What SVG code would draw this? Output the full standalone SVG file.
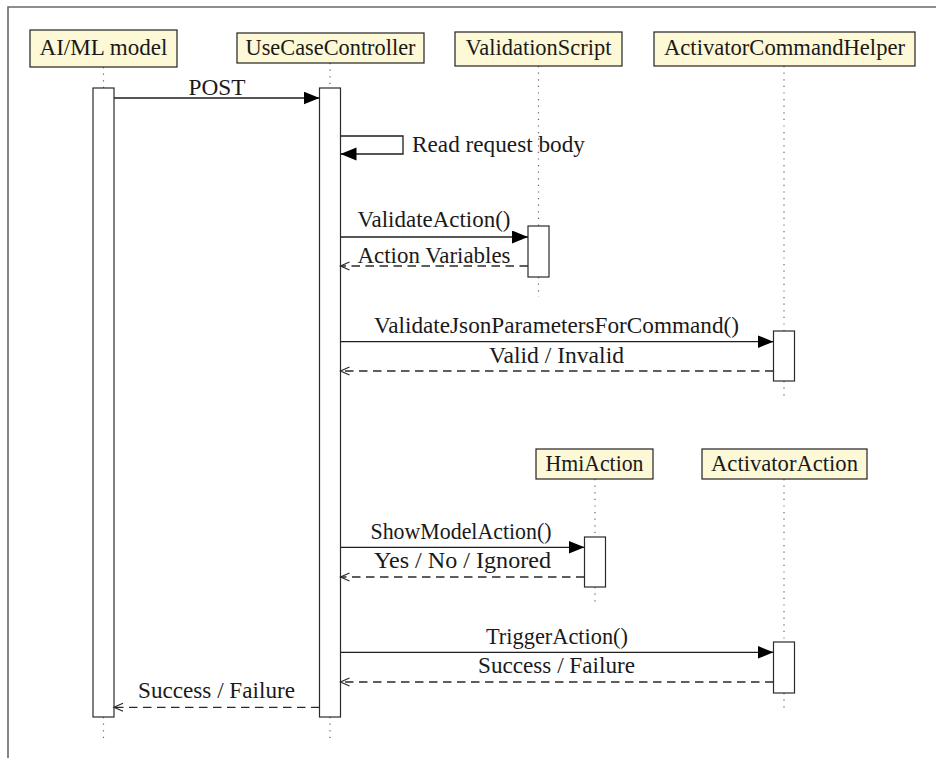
<svg xmlns="http://www.w3.org/2000/svg" width="936" height="758" viewBox="0 0 936 758">
  <defs>
    <style>
      .lbl { font-family: 'Liberation Serif', 'DejaVu Serif', serif; font-size: 22.5px; fill: #1a1a1a; }
      .head { fill: #fdf8d6; stroke: #222; stroke-width: 1.2; }
      .act { fill: #ffffff; stroke: #2a2a2a; stroke-width: 1.2; }
      .life { stroke: #666; stroke-width: 1.2; stroke-dasharray: 1.2 5.4; fill: none; }
      .call { stroke: #1e1e1e; stroke-width: 1.3; fill: none; marker-end: url(#solid); }
      .reply { stroke: #2a2a2a; stroke-width: 1.3; stroke-dasharray: 8.5 5.5; fill: none; marker-end: url(#open); }
      .frame { stroke: #6a6a6a; stroke-width: 1.6; fill: none; }
    </style>
    <marker id="solid" markerUnits="userSpaceOnUse" markerWidth="17" markerHeight="14" refX="16" refY="6.5" orient="auto">
      <path d="M0,0 L16,6.5 L0,13 z" fill="#000"/>
    </marker>
    <marker id="open" markerUnits="userSpaceOnUse" markerWidth="12" markerHeight="12" refX="10" refY="5" orient="auto">
      <path d="M1,1 L10,5 L1,9" fill="none" stroke="#2a2a2a" stroke-width="1.2"/>
    </marker>
  </defs>

  <rect width="936" height="758" fill="#ffffff"/>
  <path class="frame" d="M8 758 V7 H936"/>

  <!-- lifelines -->
  <g id="lifelines">
    <path class="life" d="M103.5 67 V88 M103.5 717 V738"/>
    <path class="life" d="M330 63 V88 M330 717 V738"/>
    <path class="life" d="M538.5 66 V226 M538.5 277 V297"/>
    <path class="life" d="M784 66 V331 M784 381 V398"/>
    <path class="life" d="M595 479 V537 M595 587 V603"/>
    <path class="life" d="M784 479 V642 M784 693 V710"/>
  </g>

  <!-- participants -->
  <g id="aiml-model">
    <rect class="head" x="30" y="30" width="147" height="37"/>
    <text class="lbl" x="103.5" y="55" text-anchor="middle" textLength="128" lengthAdjust="spacingAndGlyphs">AI/ML model</text>
    <rect class="act" x="93" y="88" width="21" height="629"/>
  </g>
  <g id="use-case-controller">
    <rect class="head" x="237" y="33" width="187" height="30"/>
    <text class="lbl" x="330.5" y="55" text-anchor="middle" textLength="170" lengthAdjust="spacingAndGlyphs">UseCaseController</text>
    <rect class="act" x="319.5" y="88" width="21" height="629"/>
  </g>
  <g id="validation-script">
    <rect class="head" x="455" y="32" width="167" height="34"/>
    <text class="lbl" x="538.5" y="55" text-anchor="middle" textLength="146" lengthAdjust="spacingAndGlyphs">ValidationScript</text>
    <rect class="act" x="528" y="226" width="21" height="51"/>
  </g>
  <g id="activator-command-helper">
    <rect class="head" x="654" y="32" width="261" height="34"/>
    <text class="lbl" x="784.5" y="55" text-anchor="middle" textLength="241" lengthAdjust="spacingAndGlyphs">ActivatorCommandHelper</text>
    <rect class="act" x="773.5" y="331" width="21" height="50"/>
  </g>
  <g id="hmi-action">
    <rect class="head" x="536" y="449" width="117" height="30"/>
    <text class="lbl" x="594.5" y="471" text-anchor="middle" textLength="98" lengthAdjust="spacingAndGlyphs">HmiAction</text>
    <rect class="act" x="584.5" y="537" width="21" height="50"/>
  </g>
  <g id="activator-action">
    <rect class="head" x="702" y="449" width="165" height="30"/>
    <text class="lbl" x="784.5" y="471" text-anchor="middle" textLength="147" lengthAdjust="spacingAndGlyphs">ActivatorAction</text>
    <rect class="act" x="773.5" y="642" width="21" height="51"/>
  </g>

  <!-- messages -->
  <g id="connectors">
    <path class="call" d="M114 98 H319.5"/>
    <text class="lbl" x="217" y="94.5" text-anchor="middle" textLength="57" lengthAdjust="spacingAndGlyphs">POST</text>

    <path class="call" d="M340.5 136 H403 V154 H340.5"/>
    <text class="lbl" x="412" y="151.5" textLength="173" lengthAdjust="spacingAndGlyphs">Read request body</text>

    <path class="call" d="M340.5 237 H528"/>
    <text class="lbl" x="434" y="227" text-anchor="middle" textLength="153" lengthAdjust="spacingAndGlyphs">ValidateAction()</text>
    <path class="reply" d="M528 266 H340.5"/>
    <text class="lbl" x="434" y="262.5" text-anchor="middle" textLength="153" lengthAdjust="spacingAndGlyphs">Action Variables</text>

    <path class="call" d="M340.5 341.7 H773.5"/>
    <text class="lbl" x="556.5" y="333" text-anchor="middle" textLength="365" lengthAdjust="spacingAndGlyphs">ValidateJsonParametersForCommand()</text>
    <path class="reply" d="M773.5 371 H340.5"/>
    <text class="lbl" x="556.5" y="362.5" text-anchor="middle" textLength="135" lengthAdjust="spacingAndGlyphs">Valid / Invalid</text>

    <path class="call" d="M340.5 547.3 H584.5"/>
    <text class="lbl" x="461" y="538.5" text-anchor="middle" textLength="181" lengthAdjust="spacingAndGlyphs">ShowModelAction()</text>
    <path class="reply" d="M584.5 577 H340.5"/>
    <text class="lbl" x="462.5" y="568" text-anchor="middle" textLength="177" lengthAdjust="spacingAndGlyphs">Yes / No / Ignored</text>

    <path class="call" d="M340.5 652.3 H773.5"/>
    <text class="lbl" x="557" y="643.5" text-anchor="middle" textLength="142" lengthAdjust="spacingAndGlyphs">TriggerAction()</text>
    <path class="reply" d="M773.5 682 H340.5"/>
    <text class="lbl" x="556.5" y="672.5" text-anchor="middle" textLength="157" lengthAdjust="spacingAndGlyphs">Success / Failure</text>

    <path class="reply" d="M319.5 707.3 H114"/>
    <text class="lbl" x="216.5" y="698" text-anchor="middle" textLength="157" lengthAdjust="spacingAndGlyphs">Success / Failure</text>
  </g>
</svg>
